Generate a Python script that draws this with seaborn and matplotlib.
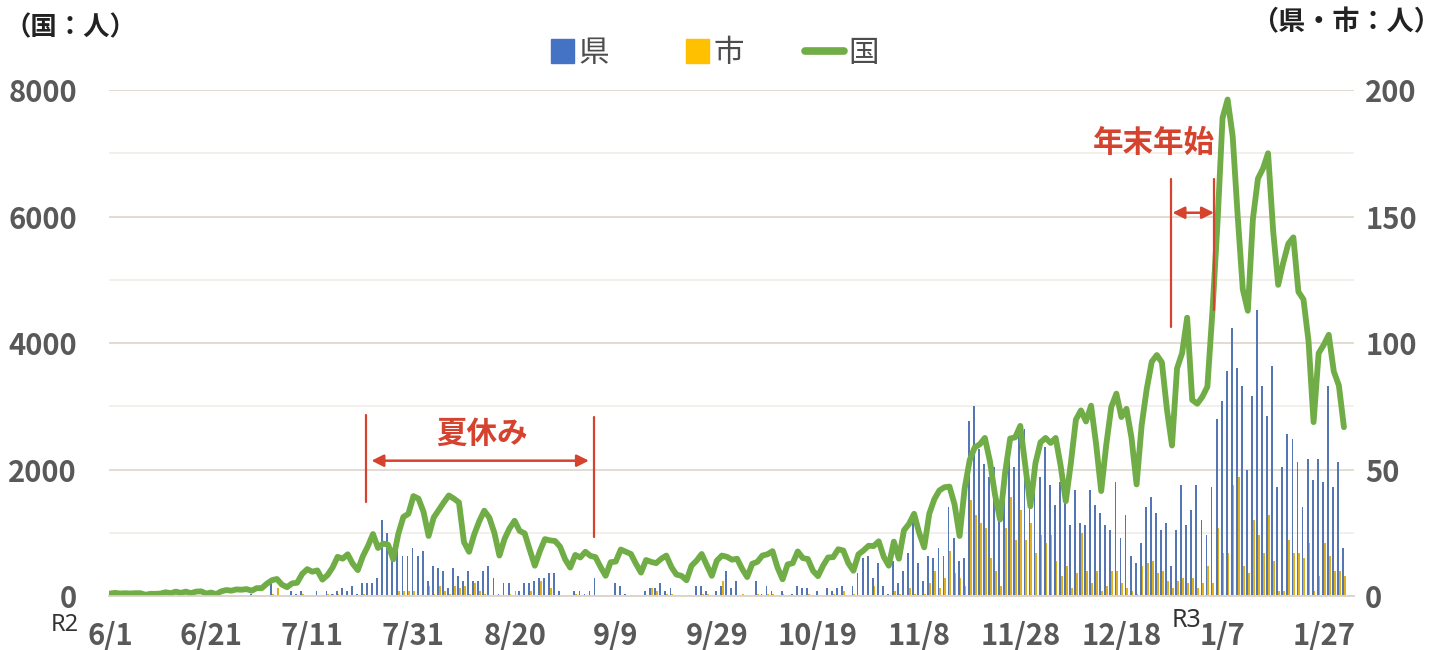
import matplotlib
matplotlib.use("Agg")
import matplotlib.pyplot as plt
import matplotlib.patches as mpatches
from matplotlib.lines import Line2D
from matplotlib.legend_handler import HandlerPatch
import seaborn as sns
import pandas as pd

# 日付ラベル（20日おき）
tick_labels = ["6/1", "6/21", "7/11", "7/31", "8/20", "9/9", "9/29",
               "10/19", "11/8", "11/28", "12/18", "1/7", "1/27"]

# 国（左軸）: 6/1 〜 1/31 の日別人数
kuni = [
    40, 50, 40, 45, 40, 45, 45, 20, 35, 35, 40, 60, 45, 70, 50, 70, 45, 70, 75, 40,
    55, 30, 75, 95, 85, 105, 100, 110, 85, 125,
    125, 195, 250, 270, 180, 140, 200, 210, 350, 425, 385, 405, 260, 330, 450, 620,
    590, 660, 510, 410, 630, 790, 980, 760, 830, 810, 580, 980, 1250, 1300, 1580,
    1540, 1330, 950, 1240, 1360, 1480, 1590, 1540, 1480, 850, 700, 970, 1180, 1350,
    1240, 1000, 640, 900, 1070, 1190, 1030, 990, 730, 480, 710, 900, 880, 870, 780,
    580, 450,
    650, 610, 700, 635, 615, 460, 320, 535, 545, 735, 700, 665, 510, 370, 570, 540,
    520, 590, 640, 460, 340, 320, 250, 480, 560, 665, 490, 320, 560, 640,
    620, 575, 590, 430, 300, 510, 540, 640, 660, 710, 450, 265, 500, 520, 705, 600,
    585, 400, 315, 480, 610, 615, 740, 720, 520, 400, 660, 720, 795, 790, 865,
    620, 480, 860, 590, 1040, 1140, 1300, 1000, 770, 1300, 1530, 1670, 1720, 1730,
    1450, 950, 1700, 2150, 2350, 2400, 2500, 2130, 1600, 1210, 1950, 2490, 2510,
    2690, 2060, 1420,
    2100, 2430, 2500, 2420, 2500, 2050, 1500, 2100, 2790, 2935, 2760, 3010, 2400,
    1660, 2390, 2990, 3200, 2830, 2960, 2500, 1765, 2700, 3270, 3705, 3810, 3695,
    2950, 2380, 3600, 3840, 4400,
    3100, 3040, 3150, 3310, 4500, 5900, 7560, 7850, 7270, 6000, 4850, 4510, 5960,
    6600, 6760, 7000, 5780, 4920, 5270, 5570, 5670, 4810, 4690, 4030, 2750, 3840,
    3970, 4130, 3550, 3330, 2670,
]

# 県（右軸）
ken = [
    0, 0, 0, 0, 0, 0, 0, 0, 0, 0, 0, 0, 0, 0, 0, 0, 0, 0, 0, 0, 0, 0, 0, 0, 0, 0, 0, 0, 1, 0,
    0, 0, 5, 0, 0, 0, 2, 1, 2, 0, 0, 2, 0, 2, 1, 2, 3, 2, 4, 1, 5, 5, 5, 7, 30, 25, 19,
    18, 16, 16, 19,
    16, 18, 6, 12, 11, 10, 3, 11, 8, 6, 10, 6, 6, 10, 12, 7, 1, 5, 5, 0, 2, 5, 5, 6,
    7, 7, 9, 9, 2, 0, 0,
    2, 2, 1, 2, 7, 0, 0, 0, 5, 4, 1, 0, 0, 0, 2, 3, 3, 5, 2, 3, 0, 0, 0, 0, 4, 4, 2, 0, 2, 4,
    10, 3, 6, 0, 0, 0, 6, 1, 4, 2, 0, 2, 0, 1, 4, 3, 3, 0, 2, 0, 3, 2, 3, 4, 0, 4, 9,
    15, 16, 7, 13,
    4, 1, 14, 5, 10, 17, 30, 13, 6, 16, 15, 19, 16, 35, 23, 14, 15, 69, 75, 58, 52,
    47, 51, 30, 40, 55, 51, 67, 66, 40,
    54, 47, 59, 44, 36, 45, 40, 28, 42, 29, 28, 42, 36, 33, 28, 26, 45, 23, 32, 16,
    13, 21, 35, 39, 33, 26, 29, 12, 26, 44, 28,
    34, 44, 30, 24, 43, 70, 77, 89, 106, 90, 83, 50, 79, 113, 83, 71, 91, 43, 51, 64,
    62, 53, 35, 54, 46, 54, 45, 83, 43, 53, 19,
]

# 市（右軸）
shi = [
    0, 0, 0, 0, 0, 0, 0, 0, 0, 0, 0, 0, 0, 0, 0, 0, 0, 0, 0, 0, 0, 0, 0, 0, 0, 0, 0, 0, 0, 0,
    0, 0, 1, 3, 0, 0, 0, 0, 1, 0, 0, 0, 0, 1, 1, 1, 0, 0, 0, 0, 1, 0, 0, 0, 0, 0, 0,
    2, 2, 2, 2,
    0, 0, 4, 1, 4, 2, 1, 4, 3, 4, 1, 5, 2, 1, 0, 0, 0, 0, 1, 2, 0, 0, 2, 0, 6, 0, 3,
    0, 0, 0, 0,
    1, 0, 0, 0, 0, 0, 0, 0, 0, 0, 0, 0, 0, 0, 0, 3, 2, 0, 1, 1, 0, 0, 0, 0, 0, 1, 1, 0, 0, 6,
    0, 0, 0, 1, 0, 0, 1, 0, 1, 1, 0, 1, 0, 0, 0, 0, 1, 0, 0, 0, 0, 1, 0, 2, 0, 1, 0,
    0, 0, 4, 0,
    0, 0, 2, 1, 0, 3, 1, 0, 1, 5, 10, 3, 7, 18, 9, 7, 4, 38, 32, 29, 27, 15, 10, 4,
    27, 39, 22, 34, 22, 29,
    17, 24, 21, 24, 14, 8, 12, 3, 9, 25, 10, 5, 10, 2, 4, 10, 10, 5, 3, 2, 1, 12, 13,
    14, 9, 10, 6, 3, 6, 7, 5,
    7, 3, 5, 12, 5, 27, 17, 17, 44, 47, 12, 9, 30, 24, 17, 32, 14, 2, 2, 22, 17, 17,
    15, 21, 2, 8, 21, 16, 10, 10, 8,
]

# 注記の位置（日番号, 国の人数）
summer_lines = [(50.7, 1490, 2860), (95.7, 940, 2830)]
summer_arrow = (51.7, 94.7, 2140)
summer_text = (73.5, 2560)
newyear_lines = [(209.8, 4260, 6600), (218.4, 4520, 6590)]
newyear_arrow = (210.1, 218.3, 6060)
newyear_text = (206.5, 7160)

BLUE = "#4472C4"
YELLOW = "#FFC000"
GREEN = "#70AD47"
RED = "#D5432F"
GRAY = "#595959"

n = len(kuni)
days = list(range(n))
df_bar = pd.DataFrame({
    "day": days + days,
    "value": ken + shi,
    "series": ["県"] * n + ["市"] * n,
})
df_line = pd.DataFrame({"day": days, "国": kuni})

sns.set_theme(style="white")
plt.rcParams["font.family"] = ["Noto Sans CJK JP", "DejaVu Sans"]

fig = plt.figure(figsize=(14.42, 6.5), dpi=100)
ax = fig.add_axes([0.0756, 0.083, 0.8634, 0.7785])
ax2 = ax.twinx()

# 棒グラフ（県・市）
sns.barplot(data=df_bar, x="day", y="value", hue="series",
            palette={"県": BLUE, "市": YELLOW}, native_scale=True,
            width=0.72, errorbar=None, linewidth=0, legend=False, ax=ax2)

# 折れ線（国）
sns.lineplot(data=df_line, x="day", y="国", color=GREEN, linewidth=4.2,
             ax=ax, legend=False)
ax.lines[0].set_solid_joinstyle("round")

ax.set_zorder(ax2.get_zorder() + 1)
ax.patch.set_visible(False)

ax.set_xlim(-0.2, 246)
ax.set_ylim(0, 8000)
ax2.set_ylim(0, 200)

ax.set_xticks(range(0, 241, 20))
ax.set_xticklabels(tick_labels)
ax.set_yticks([0, 2000, 4000, 6000, 8000])
ax2.set_yticks([0, 50, 100, 150, 200])
ax2.set_yticks([25, 75, 125, 175], minor=True)

ax.set_xlabel("")
ax.set_ylabel("")
ax2.set_xlabel("")
ax2.set_ylabel("")

ax2.grid(True, which="major", axis="y", color="#DDD5CD", linewidth=1.2)
ax2.grid(True, which="minor", axis="y", color="#F1ECE7", linewidth=1.2)
ax2.set_axisbelow(True)

for a in (ax, ax2):
    for side in ("top", "left", "right"):
        a.spines[side].set_visible(False)
    a.spines["bottom"].set_color("#DDD5CD")
    a.spines["bottom"].set_linewidth(1.2)

ax.tick_params(axis="x", length=7, width=1.2, color="#DDD5CD", pad=11)
ax.tick_params(axis="y", length=0, pad=23)
ax2.tick_params(axis="y", which="both", length=0, pad=8)
for lab in ax.get_xticklabels() + ax.get_yticklabels() + ax2.get_yticklabels():
    lab.set_fontsize(21)
    lab.set_fontweight("bold")
    lab.set_color(GRAY)

# 注記
for x, y0, y1 in summer_lines + newyear_lines:
    ax.plot([x, x], [y0, y1], color=RED, linewidth=1.6, zorder=5)
ax.annotate("", xy=(summer_arrow[0], summer_arrow[2]),
            xytext=(summer_arrow[1], summer_arrow[2]),
            arrowprops=dict(arrowstyle="<|-|>", color=RED, lw=1.8,
                            mutation_scale=18, shrinkA=0, shrinkB=0))
ax.annotate("", xy=(newyear_arrow[0], newyear_arrow[2]),
            xytext=(newyear_arrow[1], newyear_arrow[2]),
            arrowprops=dict(arrowstyle="<|-|>", color=RED, lw=1.8,
                            mutation_scale=18, shrinkA=0, shrinkB=0))
ax.text(summer_text[0], summer_text[1], "夏休み", color=RED, fontsize=22,
        fontweight="bold", ha="center", va="center")
ax.text(newyear_text[0], newyear_text[1], "年末年始", color=RED, fontsize=22,
        fontweight="bold", ha="center", va="center")


def square_patch(legend, orig_handle, xdescent, ydescent, width, height, fontsize):
    side = height * 1.1
    return mpatches.Rectangle((-xdescent + width - side, -ydescent + (height - side) / 2),
                              side, side)


handles = [mpatches.Patch(color=BLUE), mpatches.Patch(color=YELLOW),
           Line2D([0], [0], color=GREEN, linewidth=5.5, solid_capstyle="round")]
fig.legend(handles, ["県", "市", "国"], loc="center", bbox_to_anchor=(0.49, 0.918),
           ncol=3, frameon=False, fontsize=22, labelcolor="#4D4D4D",
           handlelength=1.3, handletextpad=0.12, columnspacing=2.0,
           handler_map={mpatches.Patch: HandlerPatch(patch_func=square_patch)})

fig.text(0.003, 0.957, "（国：人）", fontsize=19, fontweight="bold",
         color="#222222", ha="left", va="center")
fig.text(0.999, 0.966, "（県・市：人）", fontsize=19.5, fontweight="bold",
         color="#222222", ha="right", va="center")
fig.text(0.045, 0.038, "R2", fontsize=17, color="#333333", ha="center", va="center",
         family="Noto Sans")
fig.text(0.823, 0.045, "R3", fontsize=18, color="#333333", ha="center", va="center",
         family="Noto Sans")

fig.savefig("out.png", dpi=100)
